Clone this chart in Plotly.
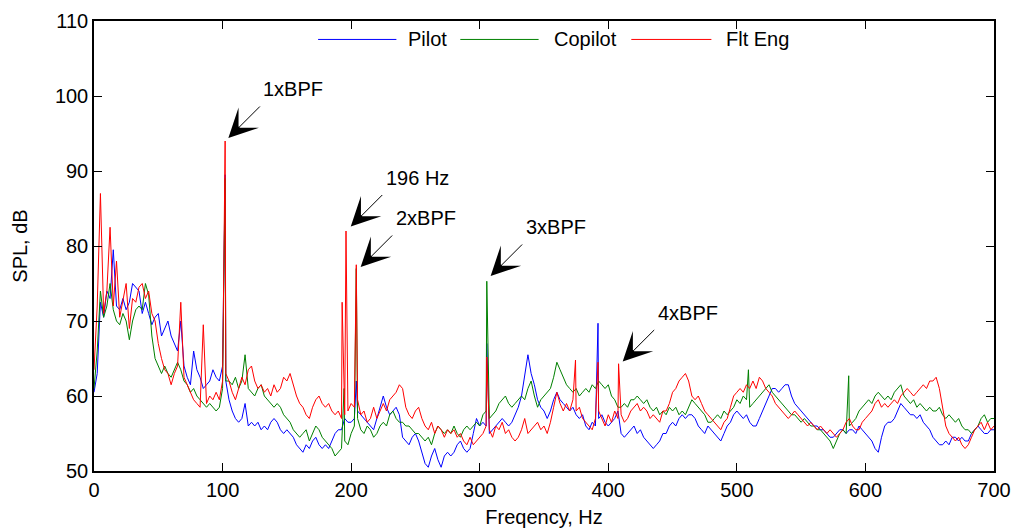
import plotly.graph_objects as go
import numpy as np

# ---------------- data ----------------
FREQ_STEP_HZ = 2.5  # spacing of the broadband samples below, starting at 0 Hz

PILOT_DB = [
    60.5, 63, 72.5, 70.5,   74, 73, 79.5, 72,   71.5, 73, 71.5, 72.5,   75, 74.5, 74, 71,
    72.5, 71, 69.5, 70.5,   71, 68, 69, 70,     68, 67, 66, 70,         64, 62.5, 61.5, 66,
    63.5, 62.5, 61, 61.5,   62, 63.5, 62.5, 62, 64, 62, 59.5, 58,       57, 56.5, 57, 59,
    56, 56.5, 56, 56.5,     55.5, 56, 55.5, 56.5, 57, 56.5, 55.5, 55,   55.5, 55, 54.5, 53.5,
    53, 52.5, 53.5, 53,     54, 54.5, 53.5, 53, 53.5, 53, 54, 55,       55.5, 55.5, 57, 56.5,
    56.5, 57, 58, 57.5,     57, 56.5, 56, 55.5, 57, 58.5, 60, 58.5,     57.5, 58, 58.5, 57.5,
    54.5, 54, 53.5, 54.5,   55, 54, 52.5, 51,   50.5, 52, 53, 51.5,     50.5, 52, 52.5, 52,
    52.5, 53.5, 54, 53,     52.5, 53, 55, 57,   56, 56.5, 56, 55,       55.5, 56, 56.5, 57,
    56.5, 56, 56.5, 57.5,   58.5, 60, 62.5, 65.5, 63, 61.5, 59.5, 58.5, 58, 57, 58, 59.5,
    60.5, 59.5, 59, 58.5,   58, 58.5, 57.5, 57, 57.5, 56, 55.5, 56.5,   56, 57, 57.5, 56.5,
    56, 56.5, 57, 58,       55, 54.5, 55, 55.5, 56, 55, 55.5, 54.5,     54, 53.5, 53, 53.5,
    54, 55, 55, 56,         56.5, 56, 57, 57.5, 57, 57.5, 57.5, 57,     56, 55.5, 55, 56,
    55.5, 55, 54.5, 54,     55, 56, 56.5, 57.5, 58, 57.5, 57, 57.5,     56.5, 56, 56, 57,
    58, 59, 60, 61,         61, 60.5, 61, 61.5, 61.5, 60, 59, 58.5,     58, 57.5, 57, 56.5,
    56, 56, 55.5, 55.5,     55, 54.5, 54.5, 55, 55.5, 55.5, 55, 55.5,   55.5, 55, 56, 55.5,
    55, 54.5, 54, 53,       52.5, 54.5, 56, 56.5, 56.5, 57, 58, 59,     58.5, 58, 57.5, 57.5,
    57, 57.5, 56.5, 56,     55.5, 54.5, 54, 53.5, 53.5, 54, 53.5, 54.5, 54.5, 54, 54.5, 54,
    54, 55, 55.5, 56,       55.5, 55, 55, 55.5, 55.5,
]

COPILOT_DB = [
    61, 66, 74, 70.5,       72, 75, 71.5, 70,   69.5, 71, 70, 67.5,     70, 71.5, 72, 71.5,
    75, 73.5, 68, 65,       64, 63, 64, 63,     62.5, 63.5, 64.5, 63.5, 62, 61.5, 60.5, 61,
    60, 59.5, 59, 58.5,     59, 58.5, 58, 58.5, 61, 62, 62, 61.5,       62.5, 61, 62, 65.5,
    61, 60.5, 60, 61,       61.5, 60, 59.5, 59, 58.5, 59, 58.5, 57.5,   57, 56.5, 55.5, 55,
    54.5, 55, 55.5, 54,     55, 56, 55.5, 54.5, 54, 53.5, 53, 52,       52.5, 53, 54, 53.5,
    55, 56, 57, 55.5,       55, 56, 55.5, 54.5, 55, 56, 56.5, 56,       57.5, 58, 57, 56.5,
    56.5, 56, 56, 55.5,     55, 55, 54.5, 54,   54.5, 53.5, 55, 56,     55.5, 55, 55.5, 55,
    56, 55, 54.5, 55.5,     56, 55.5, 56, 56.5, 56, 57.5, 58, 57,       57.5, 58, 59, 59.5,
    60, 59, 58.5, 59,       59.5, 60, 59.5, 61, 62, 60, 58.5, 59.5,     60, 60.5, 61, 62.5,
    64.5, 63.5, 62.5, 61.5, 61, 60.5, 61, 60, 60.5, 61, 60.5, 61.5,     61, 62, 61.5, 61,
    61.5, 60, 59.5, 58.5,   58.5, 59, 58.5, 59.5, 59.5, 60, 59.5, 59,   59.5, 58.5, 58, 58.5,
    57.5, 58, 57.5, 58.5,   58, 58.5, 57.5, 58, 57.5, 58.5, 59.5, 59,   58.5, 58, 57.5, 56.5,
    56.5, 57, 57.5, 57,     58, 57.5, 58, 58.5, 59.5, 59, 60, 59.5,     58.5, 59, 59.5, 60,
    60.5, 61, 61.5, 60.5,   60, 59.5, 59, 58.5, 58, 57.5, 57.5, 57,     56.5, 57, 56.5, 56,
    56, 55.5, 55.5, 55,     54.5, 54, 53, 54,   55, 55.5, 55, 56,       56.5, 57, 58, 58.5,
    59, 59.5, 59, 60,       60.5, 60, 59.5, 60, 59.5, 60.5, 61, 61.5,   60, 59.5, 59, 59.5,
    58.5, 59, 58.5, 58,     58.5, 58, 58, 58.5, 57.5, 57, 57.5, 57,     56.5, 57, 56, 55.5,
    55.5, 55, 55.5, 56,     57, 57.5, 56.5, 57, 57,
]

FLTENG_DB = [
    63.5, 72, 87, 71,       74, 82.5, 72, 78,   70.5, 73, 75, 69,       73, 72.5, 74.5, 75,
    73, 74, 71, 70,         67, 65, 63.5, 63,   61.5, 63, 64, 72.5,     62.5, 61.5, 60.5, 59.5,
    59, 58.5, 69.5, 59,     60, 59.5, 60.5, 59.5, 62, 63, 62, 60.5,     59.5, 61, 62.5, 61.5,
    63.5, 64, 62, 61,       61.5, 60.5, 61, 60, 61.5, 60.5, 61, 62.5,   62, 63, 61.5, 60,
    59, 58.5, 57.5, 57,     58.5, 59.5, 60, 59, 58.5, 59, 58, 57.5,     58, 57, 57.5, 58,
    59, 58.5, 59.5, 57.5,   58, 56.5, 57, 58.5, 57, 58, 59, 58,         59.5, 60, 60.5, 61.5,
    61, 58.5, 57.5, 57,     58, 58.5, 57, 56,   55.5, 56.5, 55, 56,     55.5, 54.5, 55.5, 55,
    55.5, 54.5, 55, 54,     53.5, 54.5, 53.5, 54, 54.5, 55, 56, 55.5,   54.5, 56, 55.5, 56.5,
    55, 55.5, 54.5, 54,     54.5, 55.5, 57, 55, 55.5, 56, 56.5, 55.5,   56, 55, 56.5, 58.5,
    60.5, 59, 58, 59,       58, 59.5, 58, 58.5, 57, 56.5, 56, 55.5,     57, 58, 57, 56,
    57.5, 56.5, 58, 57,     57.5, 56.5, 57, 58, 58.5, 59, 58, 58.5,     58, 57, 57.5, 57,
    56.5, 58, 58, 59,       60.5, 61, 62, 62.5, 63, 62, 60, 59.5,       60, 59, 58, 57.5,
    57, 56.5, 56, 55.5,     56.5, 57, 58.5, 60, 60.5, 61, 60.5, 61.5,   61, 62, 61, 62.5,
    62, 61, 60.5, 60,       59, 58.5, 58, 57.5, 57, 57.5, 58, 57.5,     57, 56.5, 56, 56.5,
    56, 55.5, 56, 55.5,     55, 55.5, 55, 54.5, 55, 55.5, 56.5, 57,     56, 55.5, 55.5, 56.5,
    57, 57.5, 58, 59,       59.5, 58.5, 59, 58.5, 59, 59.5, 59, 60,     60.5, 61, 60.5, 60,
    60.5, 61, 61.5, 61,     62, 62, 62.5, 61,   58.5, 56, 55, 54.5,     54, 54.5, 53.5, 53,
    53.5, 54.5, 55.5, 56,   56.5, 55.5, 56.5, 55.5, 56,
]

# narrow tonal peaks (frequency in Hz, level in dB)
PILOT_PEAK_HZ = [102, 204, 305.5, 392]
PILOT_PEAK_DB = [89.5, 62, 67, 69.7]
COPILOT_PEAK_HZ = [102, 194.5, 204, 305.5, 509, 587]
COPILOT_PEAK_DB = [89, 61, 77, 75.3, 63.5, 62.7]
FLTENG_PEAK_HZ = [102, 193, 196, 204, 305.5, 374.5, 392, 408]
FLTENG_PEAK_DB = [94, 72.5, 82, 77.5, 65.2, 64.8, 64.5, 64.3]

SERIES_NAMES = ["Pilot", "Copilot", "Flt Eng"]
X_TICKS = [0, 100, 200, 300, 400, 500, 600, 700]
Y_TICKS = [50, 60, 70, 80, 90, 100, 110]
ANNOT_LABELS = ["1xBPF", "196 Hz", "2xBPF", "3xBPF", "4xBPF"]
ANNOT_TIP_HZ = [104.5, 199.7, 207.4, 308.5, 411.2]
ANNOT_TIP_DB = [94.4, 82.6, 77.2, 76.0, 64.6]

# ---------------- styling ----------------
COLORS = ["#0000FF", "#008000", "#FF0000"]
FONT = "Liberation Sans, Arial, Helvetica, sans-serif"


def merge(levels, peak_hz, peak_db):
    hz = [i * FREQ_STEP_HZ for i in range(len(levels))] + list(peak_hz)
    db = list(levels) + list(peak_db)
    order = np.argsort(hz, kind="stable")
    return np.asarray(hz)[order], np.asarray(db)[order]


series = [
    merge(PILOT_DB, PILOT_PEAK_HZ, PILOT_PEAK_DB),
    merge(COPILOT_DB, COPILOT_PEAK_HZ, COPILOT_PEAK_DB),
    merge(FLTENG_DB, FLTENG_PEAK_HZ, FLTENG_PEAK_DB),
]

fig = go.Figure()
for (hz, db), name, color in zip(series, SERIES_NAMES, COLORS):
    fig.add_trace(go.Scatter(x=hz, y=db, mode="lines", name=name,
                             line=dict(color=color, width=1), showlegend=False))

# manual legend (long line samples as in the reference)
legend_line_x = [(0.249, 0.336), (0.407, 0.494), (0.597, 0.686)]
legend_text_x = [0.347, 0.509, 0.700]
shapes = []
annotations = []
for (x0, x1), tx, name, color in zip(legend_line_x, legend_text_x, SERIES_NAMES, COLORS):
    shapes.append(dict(type="line", xref="paper", yref="paper", x0=x0, x1=x1,
                       y0=0.959, y1=0.959, line=dict(color=color, width=1)))
    annotations.append(dict(xref="paper", yref="paper", x=tx, y=0.959, text=name,
                            showarrow=False, xanchor="left", yanchor="middle",
                            font=dict(family=FONT, size=20, color="black")))

# arrows with labels
for label, fx, fy in zip(ANNOT_LABELS, ANNOT_TIP_HZ, ANNOT_TIP_DB):
    annotations.append(dict(x=fx, y=fy, xref="x", yref="y", text="", showarrow=True,
                            arrowhead=3, arrowsize=4.8, arrowwidth=1, arrowcolor="black",
                            ax=33, ay=-33, standoff=0))
    annotations.append(dict(x=fx, y=fy, xref="x", yref="y", text=label, showarrow=False,
                            xanchor="left", yanchor="middle", xshift=33, yshift=49,
                            font=dict(family=FONT, size=20, color="black")))

axis_common = dict(showline=True, linecolor="black", linewidth=1.5, mirror="ticks",
                   ticks="inside", ticklen=8, tickwidth=1, tickcolor="black",
                   showgrid=False, zeroline=False, automargin=False,
                   tickfont=dict(family=FONT, size=20, color="black"))

fig.update_layout(
    width=1014, height=530,
    margin=dict(l=94, r=20, t=21, b=59, autoexpand=False),
    paper_bgcolor="white", plot_bgcolor="white",
    font=dict(family=FONT, size=20, color="black"),
    shapes=shapes, annotations=annotations,
    xaxis=dict(range=[0, 700], tickvals=X_TICKS, **axis_common,
               title=dict(text="Freqency, Hz", standoff=10,
                          font=dict(family=FONT, size=20, color="black"))),
    yaxis=dict(range=[50, 110], tickvals=Y_TICKS, **axis_common,
               title=dict(text="SPL, dB", standoff=22,
                          font=dict(family=FONT, size=20, color="black"))),
)

fig.write_html("out.html")
